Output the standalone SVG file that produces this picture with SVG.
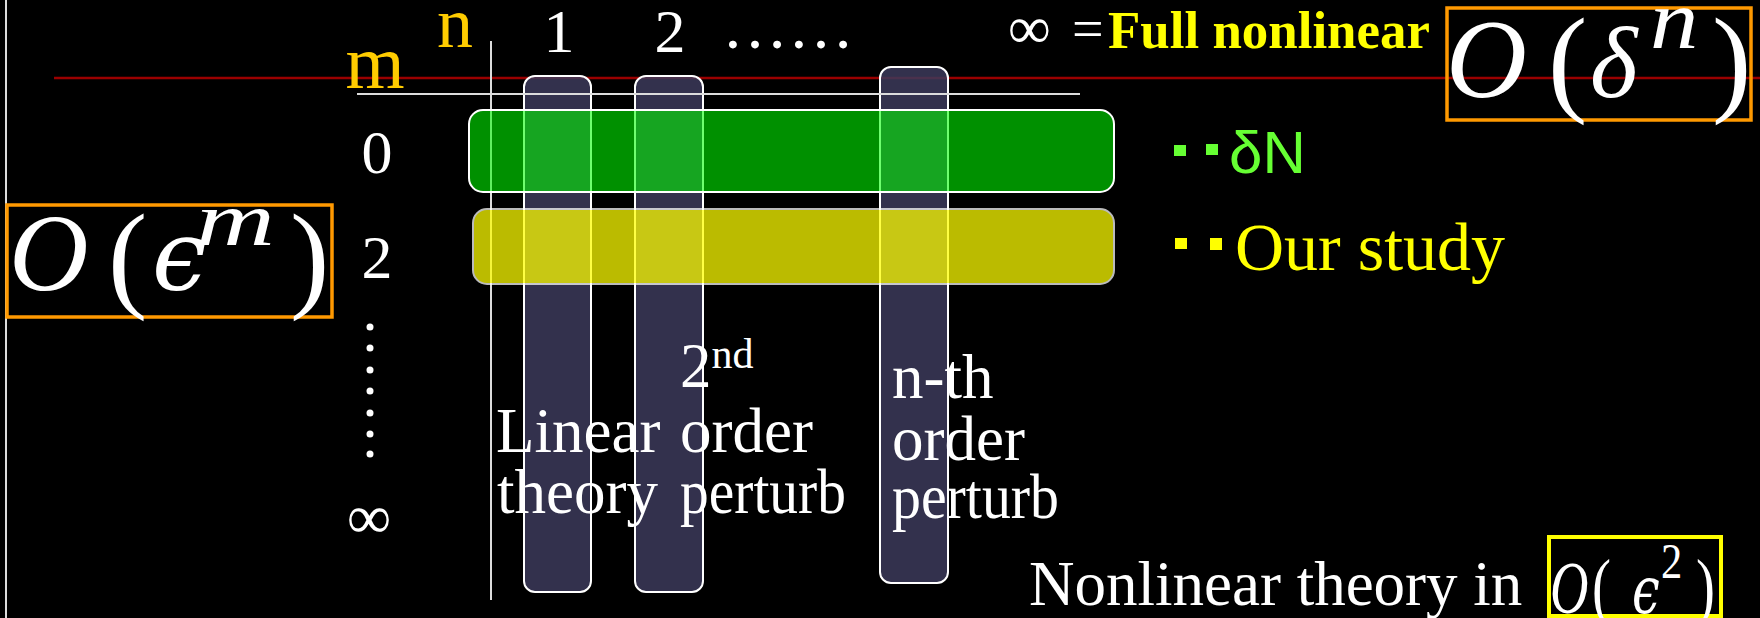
<svg xmlns="http://www.w3.org/2000/svg" width="1760" height="618" viewBox="0 0 1760 618">
<style>
.t{font-family:"Liberation Serif","Times New Roman",serif;fill:#fff}
.m{font-family:"Liberation Serif","DejaVu Serif",serif;font-style:italic;fill:#fff}
.e{font-family:"DejaVu Serif","Liberation Serif",serif;font-style:italic;fill:#fff}
.p{font-family:"Liberation Serif","DejaVu Serif",serif;fill:#fff}
.col{fill:#3c3a5a;fill-opacity:0.85;stroke:#fff;stroke-width:2}
.ax{stroke:#dcdcdc;stroke-width:2;fill:none}
</style>
<rect x="0" y="0" width="1760" height="618" fill="#000"/>
<g id="connectors">
<line x1="6" y1="0" x2="6" y2="618" class="ax" stroke-width="2.5"/>
<line x1="54" y1="78" x2="1760" y2="78" stroke="#9a0000" stroke-width="2.5"/>
</g>
<g id="columns">
<g id="col1"><rect class="col" x="524" y="76" width="67" height="516" rx="11"/></g>
<g id="col2"><rect class="col" x="635" y="76" width="68" height="516" rx="11"/></g>
<g id="coln"><rect class="col" x="880" y="67" width="68" height="516" rx="11"/></g>
</g>
<g id="axes">
<line x1="357" y1="94" x2="1080" y2="94" class="ax"/>
<line x1="491" y1="41" x2="491" y2="600" class="ax"/>
</g>
<g id="row0"><rect x="469" y="110" width="645" height="82" rx="14" fill="#00ff00" fill-opacity="0.565" stroke="#fff" stroke-width="2"/></g>
<g id="row2" opacity="0.733"><rect x="473" y="209" width="641" height="75" rx="14" fill="#ffff00" stroke="#fff" stroke-width="2"/></g>
<g id="axis-labels">
<text class="t" x="375" y="88" font-size="76" style="fill:#ffcc00" text-anchor="middle">m</text>
<text class="t" x="455" y="47" font-size="72" style="fill:#ffcc00" text-anchor="middle">n</text>
<text class="t" x="559" y="52" font-size="62" text-anchor="middle">1</text>
<text class="t" x="670" y="52" font-size="62" text-anchor="middle">2</text>
<text class="t" x="722" y="48" font-size="66">……</text>
<text class="t" x="377" y="173" font-size="62" text-anchor="middle">0</text>
<text class="t" x="377" y="278" font-size="62" text-anchor="middle">2</text>
<g fill="#fff"><circle cx="370" cy="327" r="3.5"/><circle cx="370" cy="348" r="3.5"/><circle cx="370" cy="370" r="3.5"/><circle cx="370" cy="391" r="3.5"/><circle cx="370" cy="413" r="3.5"/><circle cx="370" cy="434" r="3.5"/><circle cx="370" cy="454" r="3.5"/></g>
<text class="t" x="369" y="538" font-size="62" text-anchor="middle">∞</text>
</g>
<g id="label-linear">
<text class="t" font-size="63" x="496" y="452">Linear</text>
<text class="t" font-size="63" x="497" y="513">theory</text>
</g>
<g id="label-2nd">
<text class="t" font-size="63" x="680" y="387">2<tspan font-size="42" dy="-19">nd</tspan></text>
<text class="t" font-size="63" x="680" y="452">order</text>
<text class="t" font-size="63" x="680" y="513" textLength="166" lengthAdjust="spacingAndGlyphs">perturb</text>
</g>
<g id="label-nth">
<text class="t" font-size="63" x="892" y="398">n-th</text>
<text class="t" font-size="63" x="892" y="460">order</text>
<text class="t" font-size="63" x="892" y="518" textLength="167" lengthAdjust="spacingAndGlyphs">perturb</text>
</g>
<g id="full-nonlinear">
<text class="t" x="1008" y="48" font-size="60">∞</text>
<text class="t" x="1072" y="48" font-size="56">=</text>
<text class="t" x="1108" y="48" font-size="53" font-weight="bold" style="fill:#ffff00" textLength="322" lengthAdjust="spacingAndGlyphs">Full nonlinear</text>
</g>
<g id="box-delta">
<rect x="1447" y="8" width="304" height="112" fill="none" stroke="#ff9900" stroke-width="3.5"/>
<text class="m" x="1446" y="97" font-size="112">O</text>
<text class="p" x="1548" y="100" font-size="118">(</text>
<text class="m" x="1590" y="97" font-size="102">δ</text>
<text class="m" font-size="88" transform="translate(1650,48) scale(1.1,0.95)">n</text>
<text class="p" x="1712" y="100" font-size="118">)</text>
</g>
<g id="box-eps-m">
<rect x="7" y="205" width="325" height="112" fill="none" stroke="#ff9900" stroke-width="3.5"/>
<text class="m" x="9" y="290" font-size="110">O</text>
<text class="p" x="108" y="296" font-size="118">(</text>
<text class="e" x="152" y="290" font-size="98">ϵ</text>
<text class="m" font-size="95" transform="translate(196,245) scale(1.15,0.8)">m</text>
<text class="p" x="290" y="296" font-size="118">)</text>
</g>
<g id="legend-dn">
<rect x="1174" y="145" width="12" height="11" fill="#66ff33"/>
<rect x="1206" y="144" width="12" height="11" fill="#66ff33"/>
<text x="1229" y="173" font-size="60" font-family="Liberation Sans, Arial, sans-serif" fill="#66ff33">δN</text>
</g>
<g id="legend-ours">
<rect x="1175" y="238" width="12" height="11" fill="#ffff00"/>
<rect x="1210" y="238" width="12" height="12" fill="#ffff00"/>
<text class="t" x="1235" y="270" font-size="68" style="fill:#ffff00">Our study</text>
</g>
<g id="nonlinear-eps2">
<text class="t" x="1029" y="605" font-size="63">Nonlinear theory in</text>
<rect x="1549" y="537" width="172" height="79" fill="none" stroke="#ffff00" stroke-width="4"/>
<text class="m" font-size="74" transform="translate(1550,613) scale(0.72,1)">O</text>
<text class="p" font-size="76" transform="translate(1592,612) scale(0.75,1)">(</text>
<text class="e" font-size="66" transform="translate(1632,613) scale(0.75,1)">ϵ</text>
<text class="p" font-size="50" transform="translate(1661,578) scale(0.85,1)">2</text>
<text class="p" font-size="76" transform="translate(1696,612) scale(0.75,1)">)</text>
</g>
</svg>
